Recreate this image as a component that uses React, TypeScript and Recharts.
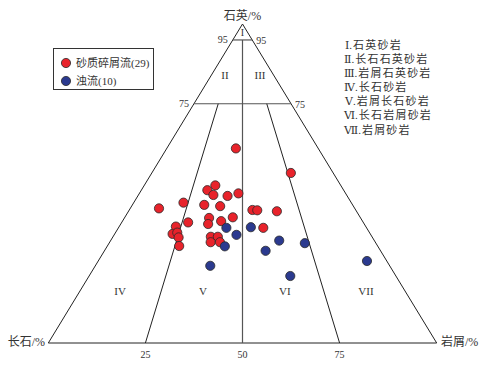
import React from 'react';
import { ScatterChart, Scatter, XAxis, YAxis, ReferenceLine, ReferenceDot, Legend } from 'recharts';

// Compositions in percent: Q = 石英, F = 长石, L = 岩屑
const debrisQ = [61.0, 53.3, 49.4, 47.9, 46.4, 46.9, 46.1, 44.0, 42.2, 43.3, 42.9, 41.7, 41.6, 41.3, 39.2, 39.4, 37.8, 38.2, 37.3, 36.5, 36.1, 34.2, 34.6, 33.1, 33.3, 33.3, 31.6, 31.6, 30.4];
const debrisF = [21.2, 10.9, 32.3, 35.1, 34.3, 27.6, 30.8, 43.2, 50.4, 38.2, 34.3, 26.6, 25.4, 20.5, 39.0, 32.8, 45.1, 36.4, 40.2, 48.9, 26.6, 50.9, 49.5, 49.9, 41.5, 39.7, 42.4, 40.0, 51.1];
const debrisL = [17.8, 35.8, 18.3, 17.0, 19.3, 25.5, 23.1, 12.8, 7.4, 18.5, 22.8, 31.7, 33.0, 38.2, 21.8, 27.8, 17.1, 25.4, 22.5, 14.6, 37.3, 14.9, 15.9, 17.0, 25.2, 27.0, 26.0, 28.4, 18.5];

const turbQ = [36.1, 36.3, 33.9, 30.3, 32.1, 28.9, 31.3, 24.2, 21.0, 25.7];
const turbF = [36.1, 29.7, 34.6, 39.4, 24.5, 29.6, 18.3, 46.2, 27.2, 5.1];
const turbL = [27.8, 34.0, 31.5, 30.3, 43.4, 41.5, 50.4, 29.6, 51.8, 69.2];

const seriesNames = ['砂质碎屑流(29)', '浊流(10)'];
const seriesColors = ['#e8232b', '#2b3a8f'];

const classNums = ['Ⅰ', 'Ⅱ', 'Ⅲ', 'Ⅳ', 'Ⅴ', 'Ⅵ', 'Ⅶ'];
const classNames = ['石英砂岩', '长石石英砂岩', '岩屑石英砂岩', '长石砂岩', '岩屑长石砂岩', '长石岩屑砂岩', '岩屑砂岩'];
const baseTicks = [25, 50, 75];
const qLevels = [95, 75];

const FONT = "'Liberation Serif', 'DejaVu Serif', 'Noto Sans CJK SC', serif";

// ternary -> cartesian; F vertex at (0,0), L vertex at (100,0), Q apex at (50,100)
const tern = (q: number, f: number, l: number) => {
  const s = q + f + l;
  const Q = (q / s) * 100;
  const L = (l / s) * 100;
  return { x: L + Q / 2, y: Q };
};

const debrisData = debrisQ.map((q, i) => tern(q, debrisF[i], debrisL[i]));
const turbData = turbQ.map((q, i) => tern(q, turbF[i], turbL[i]));

// point on a line of constant L/(F+L) ratio r at quartz level q
const ratioPt = (r: number, q: number) => tern(q, (100 - q) * (1 - r), (100 - q) * r);

const lab = (text: string, dx: number, dy: number, size: number, color = '#333') => ({
  content: (p: any) => {
    const vb = p.viewBox || {};
    const cx = (vb.x ?? 0) + (vb.width ?? 0) / 2 + dx;
    const cy = (vb.y ?? 0) + (vb.height ?? 0) / 2 + dy;
    return (
      <text x={cx} y={cy} textAnchor="middle" dominantBaseline="central" fontSize={size} fill={color} fontFamily={FONT}>
        {text}
      </text>
    );
  },
});

const Dot = (color: string) => (p: any) => (
  <circle cx={p.cx} cy={p.cy} r={4.6} fill={color} stroke="#2a2a2a" strokeWidth={0.8} />
);

const LegendBox = () => (
  <div
    style={{
      width: 99,
      height: 40,
      border: '1px solid #333',
      background: '#fff',
      fontFamily: FONT,
      fontSize: 11,
      color: '#333',
      boxSizing: 'content-box',
    }}
  >
    {seriesNames.map((n, i) => (
      <div key={n} style={{ position: 'relative', height: 18, marginTop: i === 0 ? 5 : 0 }}>
        <svg width={12} height={12} style={{ position: 'absolute', left: 6, top: 3 }}>
          <circle cx={6} cy={6} r={4.6} fill={seriesColors[i]} stroke="#2a2a2a" strokeWidth={0.8} />
        </svg>
        <span style={{ position: 'absolute', left: 22, top: 1, whiteSpace: 'nowrap', lineHeight: '16px' }}>{n}</span>
      </div>
    ))}
  </div>
);

export default function App() {
  const edge = { stroke: '#222', strokeWidth: 1 };
  const inner = { stroke: '#555', strokeWidth: 1.2 };
  return (
    <div style={{ position: 'absolute', left: 0, top: 0, width: 490, height: 367, background: '#fff' }}>
      <ScatterChart width={490} height={367} margin={{ top: 24, right: 53.3, bottom: 24, left: 48.3 }}>
        <XAxis type="number" dataKey="x" domain={[0, 100]} hide allowDataOverflow />
        <YAxis type="number" dataKey="y" domain={[0, 100]} hide allowDataOverflow />

        {/* triangle edges */}
        <ReferenceLine segment={[tern(0, 100, 0), tern(0, 0, 100)]} {...edge} ifOverflow="visible" />
        <ReferenceLine segment={[tern(0, 100, 0), tern(100, 0, 0)]} {...edge} ifOverflow="visible" />
        <ReferenceLine segment={[tern(0, 0, 100), tern(100, 0, 0)]} {...edge} ifOverflow="visible" />

        {/* quartz levels */}
        {qLevels.map((q) => (
          <ReferenceLine key={'q' + q} segment={[ratioPt(0, q), ratioPt(1, q)]} {...inner} ifOverflow="visible" />
        ))}
        {/* F/L ratio lines */}
        <ReferenceLine segment={[ratioPt(0.5, 95), ratioPt(0.5, 0)]} {...inner} ifOverflow="visible" />
        <ReferenceLine segment={[ratioPt(0.25, 75), ratioPt(0.25, 0)]} {...edge} ifOverflow="visible" />
        <ReferenceLine segment={[ratioPt(0.75, 75), ratioPt(0.75, 0)]} {...edge} ifOverflow="visible" />

        {/* vertex labels */}
        <ReferenceDot x={50} y={100} r={0} fill="none" stroke="none" ifOverflow="visible" label={lab('石英/%', 0, -8, 12)} />
        <ReferenceDot x={0} y={0} r={0} fill="none" stroke="none" ifOverflow="visible" label={lab('长石/%', -22, -1, 12)} />
        <ReferenceDot x={100} y={0} r={0} fill="none" stroke="none" ifOverflow="visible" label={lab('岩屑/%', 23, -1, 12)} />

        {/* quartz level labels */}
        {qLevels.map((q) => (
          <ReferenceDot key={'lq' + q} {...ratioPt(0, q)} r={0} fill="none" stroke="none" ifOverflow="visible" label={lab(String(q), -10, 0, 10)} />
        ))}
        {qLevels.map((q) => (
          <ReferenceDot key={'rq' + q} {...ratioPt(1, q)} r={0} fill="none" stroke="none" ifOverflow="visible" label={lab(String(q), 9, 1, 10)} />
        ))}
        {/* base ticks */}
        {baseTicks.map((t) => (
          <ReferenceDot key={'b' + t} x={t} y={0} r={0} fill="none" stroke="none" ifOverflow="visible" label={lab(String(t), 0, 11, 10)} />
        ))}

        {/* region labels */}
        <ReferenceDot x={50} y={97.2} r={0} fill="none" stroke="none" ifOverflow="visible" label={lab('I', 0, 0, 10)} />
        <ReferenceDot x={45.5} y={84} r={0} fill="none" stroke="none" ifOverflow="visible" label={lab('II', 0, 0, 11)} />
        <ReferenceDot x={54.5} y={84} r={0} fill="none" stroke="none" ifOverflow="visible" label={lab('III', 0, 0, 11)} />
        <ReferenceDot x={18.5} y={16.3} r={0} fill="none" stroke="none" ifOverflow="visible" label={lab('IV', 0, 0, 11)} />
        <ReferenceDot x={39.8} y={16.3} r={0} fill="none" stroke="none" ifOverflow="visible" label={lab('V', 0, 0, 11)} />
        <ReferenceDot x={60.9} y={16.3} r={0} fill="none" stroke="none" ifOverflow="visible" label={lab('VI', 0, 0, 11)} />
        <ReferenceDot x={81.8} y={16.3} r={0} fill="none" stroke="none" ifOverflow="visible" label={lab('VII', 0, 0, 11)} />

        <Scatter name={seriesNames[0]} data={debrisData} shape={Dot(seriesColors[0])} isAnimationActive={false} />
        <Scatter name={seriesNames[1]} data={turbData} shape={Dot(seriesColors[1])} isAnimationActive={false} />

        <Legend
          layout="horizontal"
          verticalAlign="middle"
          align="center"
          content={() => <LegendBox />}
          wrapperStyle={{ left: 53, top: 48, width: 101, height: 42 }}
        />
      </ScatterChart>
      <div
        style={{
          position: 'absolute',
          left: 344,
          top: 38,
          fontFamily: FONT,
          fontSize: 11,
          color: '#333',
          lineHeight: '14.1px',
          whiteSpace: 'nowrap',
        }}
      >
        {classNames.map((c, i) => (
          <div key={c} style={{ paddingLeft: i === 0 || i === 4 ? 1 : 0 }}>
            <span>{classNums[i]}</span>
            <span style={{ marginRight: 1 }}>.</span>
            <span style={{ letterSpacing: 1.2 }}>{c}</span>
          </div>
        ))}
      </div>
    </div>
  );
}
